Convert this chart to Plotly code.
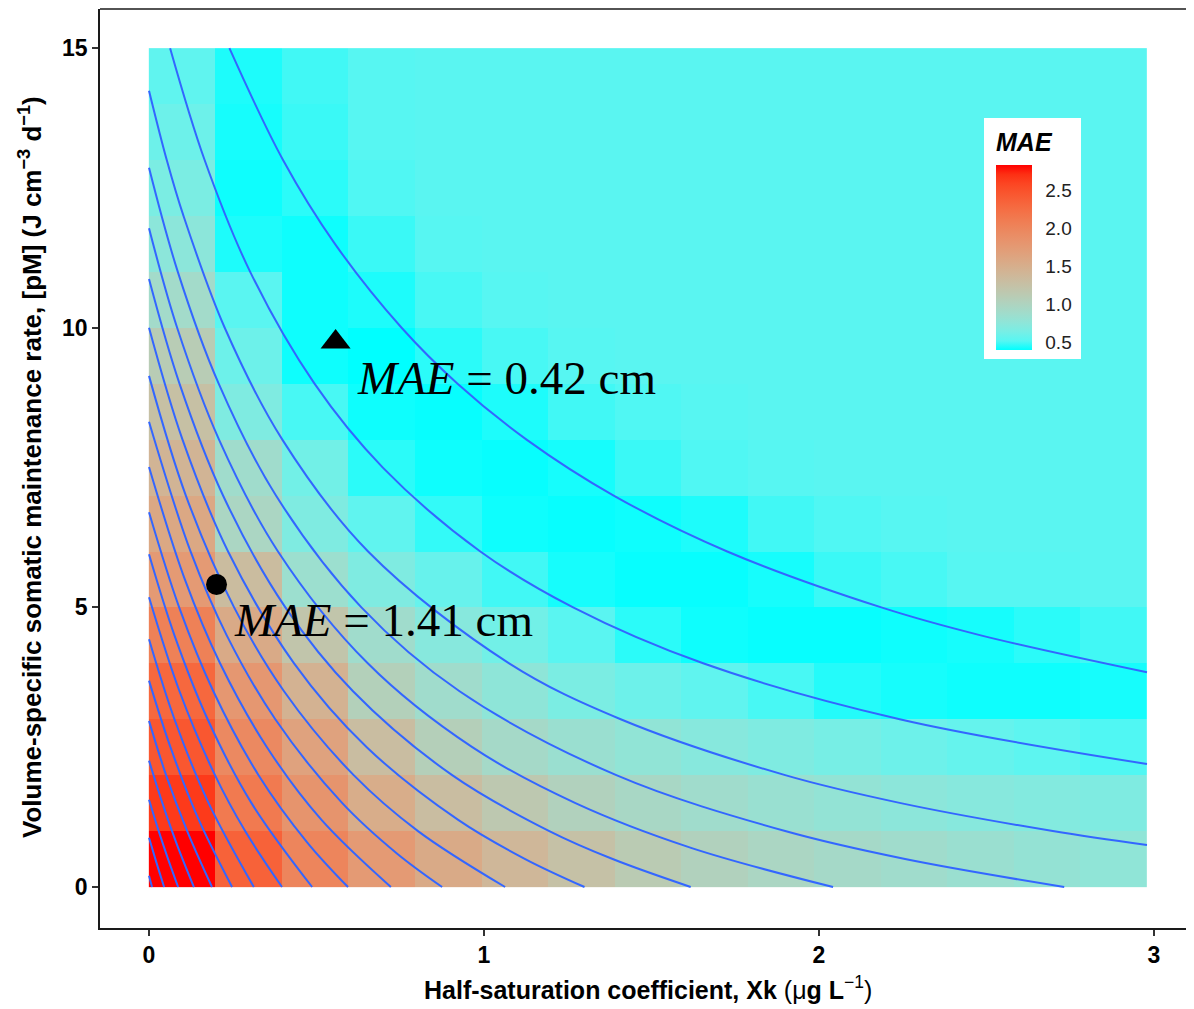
import plotly.graph_objects as go

# ---------------- data ----------------
xk_centers = [0.099, 0.298, 0.497, 0.695, 0.894, 1.093, 1.291, 1.490,
              1.688, 1.887, 2.086, 2.284, 2.483, 2.682, 2.880]
pm_centers = [0.5, 1.5, 2.5, 3.5, 4.5, 5.5, 6.5, 7.5, 8.5, 9.5,
              10.5, 11.5, 12.5, 13.5, 14.5]

mae_r00 = [2.83, 2.35, 2.00, 1.75, 1.55, 1.38, 1.25, 1.12, 1.03, 0.97, 0.92, 0.88, 0.84, 0.80, 0.77]
mae_r01 = [2.65, 2.12, 1.82, 1.52, 1.30, 1.15, 1.03, 0.95, 0.88, 0.83, 0.79, 0.75, 0.72, 0.70, 0.68]
mae_r02 = [2.45, 1.95, 1.65, 1.30, 1.06, 0.92, 0.84, 0.78, 0.72, 0.68, 0.64, 0.60, 0.57, 0.54, 0.51]
mae_r03 = [2.30, 1.78, 1.45, 1.05, 0.88, 0.76, 0.66, 0.60, 0.55, 0.50, 0.45, 0.43, 0.42, 0.42, 0.43]
mae_r04 = [2.05, 1.55, 1.20, 0.88, 0.72, 0.62, 0.53, 0.46, 0.42, 0.41, 0.41, 0.42, 0.43, 0.46, 0.49]
mae_r05 = [1.75, 1.32, 0.85, 0.68, 0.58, 0.49, 0.43, 0.41, 0.41, 0.43, 0.48, 0.50, 0.52, 0.52, 0.53]
mae_r06 = [1.58, 0.97, 0.68, 0.55, 0.47, 0.42, 0.41, 0.42, 0.44, 0.49, 0.51, 0.52, 0.53, 0.53, 0.53]
mae_r07 = [1.42, 0.88, 0.62, 0.46, 0.42, 0.41, 0.43, 0.48, 0.51, 0.52, 0.53, 0.53, 0.53, 0.53, 0.53]
mae_r08 = [1.27, 0.68, 0.50, 0.42, 0.41, 0.44, 0.49, 0.51, 0.52, 0.53, 0.53, 0.53, 0.53, 0.53, 0.53]
mae_r09 = [1.10, 0.60, 0.42, 0.40, 0.46, 0.50, 0.52, 0.53, 0.53, 0.53, 0.53, 0.53, 0.53, 0.53, 0.53]
mae_r10 = [0.90, 0.53, 0.42, 0.44, 0.50, 0.52, 0.53, 0.53, 0.53, 0.53, 0.53, 0.53, 0.53, 0.53, 0.53]
mae_r11 = [0.75, 0.44, 0.42, 0.48, 0.52, 0.53, 0.53, 0.53, 0.53, 0.53, 0.53, 0.53, 0.53, 0.53, 0.53]
mae_r12 = [0.66, 0.42, 0.46, 0.51, 0.53, 0.53, 0.53, 0.53, 0.53, 0.53, 0.53, 0.53, 0.53, 0.53, 0.53]
mae_r13 = [0.60, 0.43, 0.48, 0.52, 0.53, 0.53, 0.53, 0.53, 0.53, 0.53, 0.53, 0.53, 0.53, 0.53, 0.53]
mae_r14 = [0.55, 0.44, 0.49, 0.52, 0.53, 0.53, 0.53, 0.53, 0.53, 0.53, 0.53, 0.53, 0.53, 0.53, 0.53]

# iso-lines
iso01_x = [0.240, 0.400, 0.555, 0.754, 0.921, 1.127, 1.387, 1.726, 2.186, 2.483, 2.979]
iso01_y = [15.0, 13.0, 11.5, 10.0, 9.0, 8.0, 7.0, 6.0, 5.0, 4.5, 3.84]
iso02_x = [0.063, 0.166, 0.302, 0.494, 0.698, 0.989, 1.266, 1.654, 2.241, 2.979]
iso02_y = [15.0, 13.0, 11.0, 9.0, 7.5, 6.0, 5.0, 4.0, 3.0, 2.20]
iso03_x = [0.0, 0.053, 0.103, 0.226, 0.398, 0.654, 1.075, 1.408, 1.899, 2.244, 2.698, 2.979]
iso03_y = [14.24, 13.0, 12.0, 10.0, 8.0, 6.0, 4.0, 3.0, 2.0, 1.5, 1.0, 0.75]
iso04_x = [0.0, 0.086, 0.208, 0.379, 0.634, 0.927, 1.395, 1.899, 2.257, 2.732]
iso04_y = [12.86, 11.0, 9.0, 7.0, 5.0, 3.5, 2.0, 1.0, 0.5, 0.0]
iso05_x = [0.0, 0.084, 0.209, 0.385, 0.653, 0.965, 1.273, 1.618, 2.042]
iso05_y = [11.78, 10.0, 8.0, 6.0, 4.0, 2.5, 1.5, 0.7, 0.0]
iso06_x = [0.0, 0.091, 0.221, 0.407, 0.609, 0.905, 1.195, 1.384, 1.617]
iso06_y = [10.87, 9.0, 7.0, 5.0, 3.5, 2.0, 1.0, 0.5, 0.0]
iso07_x = [0.0, 0.100, 0.236, 0.433, 0.650, 0.923, 1.123, 1.300]
iso07_y = [10.0, 8.0, 6.0, 4.0, 2.5, 1.2, 0.5, 0.0]
iso08_x = [0.0, 0.110, 0.254, 0.403, 0.611, 0.803, 1.063]
iso08_y = [9.14, 7.0, 5.0, 3.5, 2.0, 1.0, 0.0]
iso09_x = [0.0, 0.124, 0.232, 0.377, 0.577, 0.740, 0.875]
iso09_y = [8.32, 6.0, 4.5, 3.0, 1.5, 0.6, 0.0]
iso10_x = [0.0, 0.107, 0.212, 0.352, 0.515, 0.722]
iso10_y = [7.51, 5.5, 4.0, 2.5, 1.2, 0.0]
iso11_x = [0.0, 0.090, 0.192, 0.327, 0.472, 0.594]
iso11_y = [6.70, 5.0, 3.5, 2.0, 0.8, 0.0]
iso12_x = [0.0, 0.076, 0.175, 0.306, 0.487]
iso12_y = [5.95, 4.5, 3.0, 1.5, 0.0]
iso13_x = [0.0, 0.091, 0.197, 0.287, 0.397]
iso13_y = [5.18, 3.5, 2.0, 1.0, 0.0]
iso14_x = [0.0, 0.076, 0.178, 0.313]
iso14_y = [4.43, 3.0, 1.5, 0.0]
iso15_x = [0.0, 0.064, 0.145, 0.248]
iso15_y = [3.69, 2.5, 1.25, 0.0]
iso16_x = [0.0, 0.051, 0.114, 0.188]
iso16_y = [2.97, 2.0, 1.0, 0.0]
iso17_x = [0.0, 0.040, 0.084, 0.134]
iso17_y = [2.26, 1.5, 0.75, 0.0]
iso18_x = [0.0, 0.029, 0.057, 0.087]
iso18_y = [1.56, 1.0, 0.5, 0.0]
iso19_x = [0.0, 0.022, 0.045]
iso19_y = [0.88, 0.44, 0.0]
iso20_x = [0.0, 0.009]
iso20_y = [0.20, 0.0]

best_point = (0.557, 9.745)      # MAE = 0.42 cm
start_point = (0.2015, 5.41)     # MAE = 1.41 cm

x_ticks = [0, 1, 2, 3]
y_ticks = [0, 5, 10, 15]
cbar_ticks = [0.5, 1.0, 1.5, 2.0, 2.5]
z_min, z_max = 0.40, 2.83

# ---------------- colour scale (cyan -> red, Lab interpolation) ----------------
def _lin(c):
    c = c / 255.0
    return c / 12.92 if c <= 0.04045 else ((c + 0.055) / 1.055) ** 2.4

def _f(t):
    return t ** (1 / 3) if t > 0.008856 else 7.787 * t + 16 / 116

def rgb2lab(r, g, b):
    R, G, B = _lin(r), _lin(g), _lin(b)
    X = (0.4124 * R + 0.3576 * G + 0.1805 * B) / 0.95047
    Y = 0.2126 * R + 0.7152 * G + 0.0722 * B
    Z = (0.0193 * R + 0.1192 * G + 0.9505 * B) / 1.08883
    return 116 * _f(Y) - 16, 500 * (_f(X) - _f(Y)), 200 * (_f(Y) - _f(Z))

def lab2rgb(L, a, b):
    fy = (L + 16) / 116
    fx = fy + a / 500
    fz = fy - b / 200
    def inv(t):
        return t ** 3 if t ** 3 > 0.008856 else (t - 16 / 116) / 7.787
    X, Y, Z = inv(fx) * 0.95047, inv(fy), inv(fz) * 1.08883
    R = 3.2406 * X - 1.5372 * Y - 0.4986 * Z
    G = -0.9689 * X + 1.8758 * Y + 0.0415 * Z
    B = 0.0557 * X - 0.2040 * Y + 1.0570 * Z
    def gam(c):
        c = max(0.0, min(1.0, c))
        return 12.92 * c if c <= 0.0031308 else 1.055 * c ** (1 / 2.4) - 0.055
    return tuple(int(round(255 * gam(c))) for c in (R, G, B))

lo = rgb2lab(0, 255, 255)
hi = rgb2lab(255, 0, 0)
colorscale = []
for i in range(21):
    t = i / 20
    lab = [lo[k] + (hi[k] - lo[k]) * t for k in range(3)]
    r, g, b = lab2rgb(*lab)
    colorscale.append([t, f"rgb({r},{g},{b})"])

# ---------------- geometry helpers (window pixels -> paper) ----------------
# the page body has an 8 px margin, so the figure sits at (8, 8) in the window
PL, PR, PT, PB = 100, 1194, 9, 928          # plot area in window pixels
PW, PH = PR - PL, PB - PT

def px(xpix):
    return (xpix - PL) / PW

def py(ypix):
    return (PB - ypix) / PH

FONT = "Liberation Sans, Arial, sans-serif"
SERIF = "Liberation Serif, Times New Roman, serif"

# colour bar geometry (window pixels)
CB_L, CB_R, CB_T, CB_B = 996, 1032, 165, 350

z = [mae_r00, mae_r01, mae_r02, mae_r03, mae_r04, mae_r05, mae_r06, mae_r07,
     mae_r08, mae_r09, mae_r10, mae_r11, mae_r12, mae_r13, mae_r14]

fig = go.Figure()
fig.add_trace(go.Heatmap(
    x=xk_centers, y=pm_centers, z=z,
    colorscale=colorscale, zmin=z_min, zmax=z_max,
    hoverinfo="skip",
    colorbar=dict(
        x=px(CB_L), xanchor="left", xpad=0,
        y=py((CB_T + CB_B) / 2), yanchor="middle", ypad=0,
        len=CB_B - CB_T, lenmode="pixels", thickness=CB_R - CB_L, thicknessmode="pixels",
        outlinewidth=0, borderwidth=0, bgcolor="rgba(0,0,0,0)",
        tickvals=cbar_ticks, tickformat=".1f",
        ticks="outside", ticklen=10, tickcolor="rgba(0,0,0,0)",
        tickfont=dict(family=FONT, size=19, color="#222222"),
    ),
))

iso_lines = [(iso01_x, iso01_y), (iso02_x, iso02_y), (iso03_x, iso03_y), (iso04_x, iso04_y),
             (iso05_x, iso05_y), (iso06_x, iso06_y), (iso07_x, iso07_y), (iso08_x, iso08_y),
             (iso09_x, iso09_y), (iso10_x, iso10_y), (iso11_x, iso11_y), (iso12_x, iso12_y),
             (iso13_x, iso13_y), (iso14_x, iso14_y), (iso15_x, iso15_y), (iso16_x, iso16_y),
             (iso17_x, iso17_y), (iso18_x, iso18_y), (iso19_x, iso19_y), (iso20_x, iso20_y)]
for xs, ys in iso_lines:
    fig.add_trace(go.Scatter(x=xs, y=ys, mode="lines",
                             line=dict(color="#3366FF", width=2.0, shape="spline", smoothing=1.0),
                             hoverinfo="skip", showlegend=False))

fig.add_trace(go.Scatter(x=[best_point[0]], y=[best_point[1]], mode="markers",
                         marker=dict(symbol="triangle-up", size=26, color="black"),
                         hoverinfo="skip", showlegend=False))
fig.add_trace(go.Scatter(x=[start_point[0]], y=[start_point[1]], mode="markers",
                         marker=dict(symbol="circle", size=21, color="black"),
                         hoverinfo="skip", showlegend=False))

axis_common = dict(showgrid=False, zeroline=False, showline=True, linecolor="#1a1a1a",
                   linewidth=1.6, ticks="outside", ticklen=6, tickwidth=1.6, tickcolor="#333333",
                   tickfont=dict(family=FONT, size=23, color="black", weight="bold"))

shapes = [
    dict(type="line", xref="paper", yref="paper", x0=0, x1=1, y0=1, y1=1,
         line=dict(color="#1a1a1a", width=1.6)),
    dict(type="rect", xref="paper", yref="paper",
         x0=px(984), x1=px(1081), y0=py(359), y1=py(118),
         fillcolor="white", line=dict(width=0), layer="above"),
]
# white guide ticks on both edges of the colour bar
for v in cbar_ticks:
    ypix = CB_B - (v - z_min) / (z_max - z_min) * (CB_B - CB_T)
    for xa, xb in ((CB_L, CB_L + 7), (CB_R - 7, CB_R)):
        shapes.append(dict(type="line", xref="paper", yref="paper",
                           x0=px(xa), x1=px(xb), y0=py(ypix), y1=py(ypix),
                           line=dict(color="white", width=1.2), layer="above"))

fig.update_layout(
    width=1186, height=1001,
    margin=dict(l=PL - 8, r=0, t=PT - 8, b=1001 - (PB - 8)),
    paper_bgcolor="white", plot_bgcolor="white",
    xaxis=dict(range=[-0.1463, 3.1194], tickvals=x_ticks, **axis_common),
    yaxis=dict(range=[-0.733, 15.70], tickvals=y_ticks, **axis_common),
    shapes=shapes,
    annotations=[
        dict(text="<b>Half-saturation coefficient, Xk</b> (μ<b>g L</b><sup>−1</sup>)",
             xref="paper", yref="paper", x=px(648), y=py(988),
             xanchor="center", yanchor="middle", showarrow=False,
             font=dict(family=FONT, size=25, color="black")),
        dict(text="<b>Volume-specific somatic maintenance rate, [pM] (J cm<sup>−3</sup> d<sup>−1</sup>)</b>",
             xref="paper", yref="paper", x=px(30), y=py(467),
             xanchor="center", yanchor="middle", showarrow=False, textangle=-90,
             font=dict(family=FONT, size=26, color="black")),
        dict(text="<b><i>MAE</i></b>", xref="paper", yref="paper",
             x=px(994), y=py(142), xanchor="left", yanchor="middle",
             showarrow=False, font=dict(family=FONT, size=25, color="black")),
        dict(text="<i>MAE</i> = 0.42 cm", x=0.614, y=9.10, xref="x", yref="y",
             xanchor="left", yanchor="middle", showarrow=False,
             font=dict(family=SERIF, size=47, color="black")),
        dict(text="<i>MAE</i> = 1.41 cm", x=0.247, y=4.77, xref="x", yref="y",
             xanchor="left", yanchor="middle", showarrow=False,
             font=dict(family=SERIF, size=47, color="black")),
    ],
)

fig.write_html("out.html")
